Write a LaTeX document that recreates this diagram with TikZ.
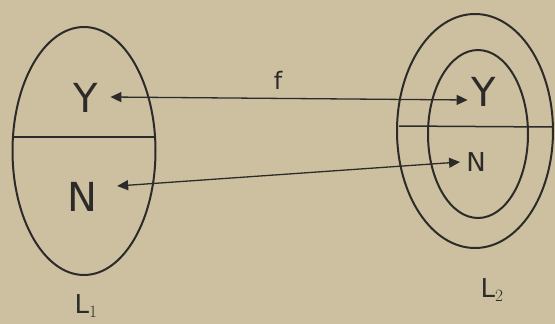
\documentclass[tikz,border=0pt]{standalone}
\usepackage{fontspec}
\setmainfont{DejaVu Sans}
\usetikzlibrary{shapes.geometric,arrows.meta,calc}
\definecolor{paper}{RGB}{204,192,160}
\definecolor{ink}{RGB}{45,43,42}
\begin{document}
\begin{tikzpicture}[x=1pt,y=-1pt,
  setshape/.style={draw=ink,line width=2pt,ellipse,inner sep=0pt},
  letter/.style={text=ink,font=\fontsize{40}{40}\selectfont,inner sep=0pt},
  small/.style={text=ink,font=\fontsize{26}{26}\selectfont,inner sep=0pt},
  mapline/.style={draw=ink,line width=1.3pt,{Triangle[length=11pt,width=10pt]}-{Triangle[length=11pt,width=10pt]}}]
\fill[paper] (0,0) rectangle (555,324);
\useasboundingbox (0,0) rectangle (555,324);
% left set
\node[setshape,minimum width=143pt,minimum height=248pt] (A) at (84,151) {};
\coordinate (Al) at (13,137);
\coordinate (Ar) at (155,137);
\draw[ink,line width=1.5pt] (Al) -- (Ar);
\node[letter] (Y1) at (86,98) {Y};
\node[letter] (N1) at (82,197) {N};
\node[small] (L1) at (86,306) {L$_1$};
% right set
\node[setshape,minimum width=156pt,minimum height=234pt] (B) at (475,131) {};
\node[setshape,minimum width=100pt,minimum height=168pt] (C) at (478,134) {};
\coordinate (Bl) at (399,126);
\coordinate (Br) at (552,127);
\draw[ink,line width=1.5pt] (Bl) -- (Br);
\node[letter] (Y2) at (484,92) {Y};
\node[small] (N2) at (476,162) {N};
\node[small] (L2) at (492,290) {L$_2$};
% maps
\draw[mapline] ($(Y1.east)+(12,-1)$) -- ($(Y2.west)+(-4,8)$);
\draw[mapline] ($(N1.east)+(20,-11)$) -- ($(N2.west)+(-6,0)$);
\node[small,font=\fontsize{24}{24}\selectfont] (f) at (278,80) {f};
\end{tikzpicture}
\end{document}
